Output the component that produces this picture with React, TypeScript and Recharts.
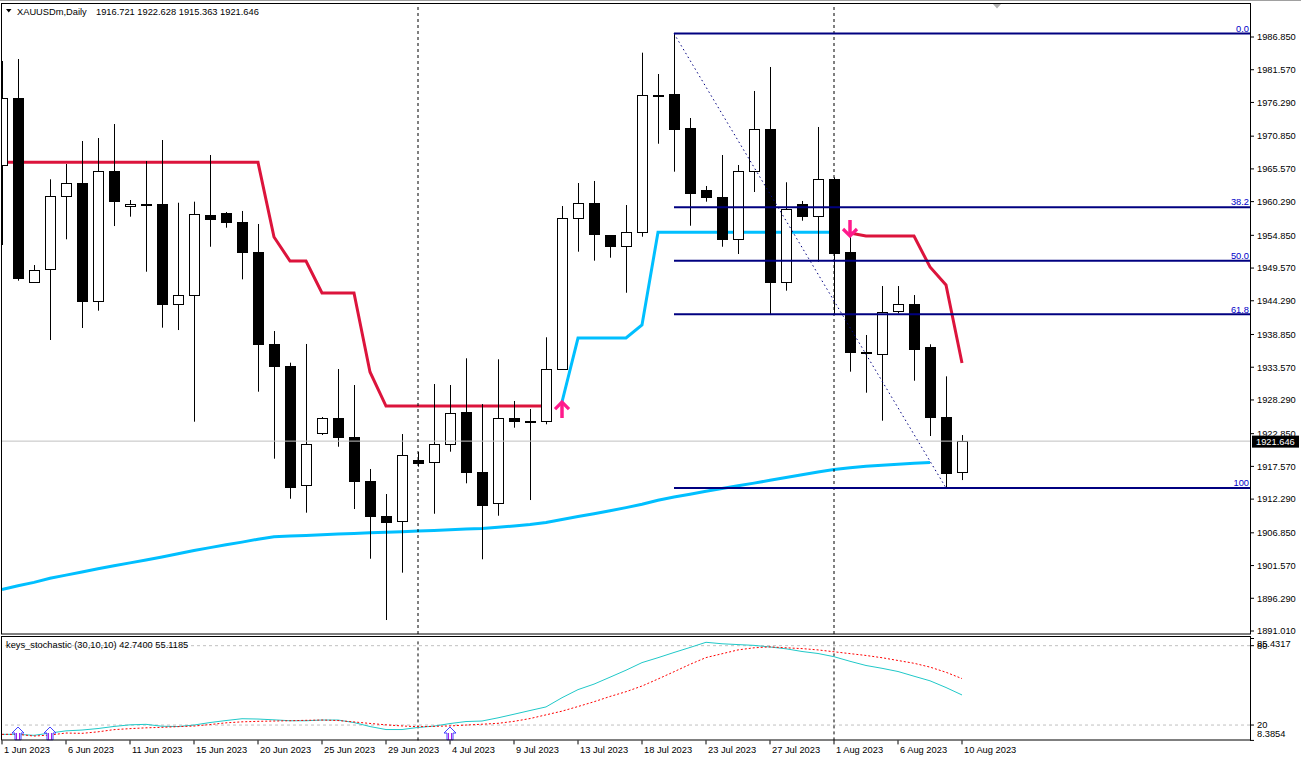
import React from 'react';
import { ComposedChart, Line, Bar, XAxis, YAxis, ReferenceLine, Scatter } from 'recharts';

const FONT = "'Liberation Sans', Arial, sans-serif";

const dates = [
  '1 Jun 2023', '2 Jun 2023', '4 Jun 2023', '5 Jun 2023', '6 Jun 2023', '7 Jun 2023', '8 Jun 2023', '9 Jun 2023',
  '11 Jun 2023', '12 Jun 2023', '13 Jun 2023', '14 Jun 2023', '15 Jun 2023', '16 Jun 2023', '18 Jun 2023', '19 Jun 2023',
  '20 Jun 2023', '21 Jun 2023', '22 Jun 2023', '23 Jun 2023', '25 Jun 2023', '26 Jun 2023', '27 Jun 2023', '28 Jun 2023',
  '29 Jun 2023', '30 Jun 2023', '2 Jul 2023', '3 Jul 2023', '4 Jul 2023', '5 Jul 2023', '6 Jul 2023', '7 Jul 2023',
  '9 Jul 2023', '10 Jul 2023', '11 Jul 2023', '12 Jul 2023', '13 Jul 2023', '14 Jul 2023', '16 Jul 2023', '17 Jul 2023',
  '18 Jul 2023', '19 Jul 2023', '20 Jul 2023', '21 Jul 2023', '23 Jul 2023', '24 Jul 2023', '25 Jul 2023', '26 Jul 2023',
  '27 Jul 2023', '28 Jul 2023', '30 Jul 2023', '31 Jul 2023', '1 Aug 2023', '2 Aug 2023', '3 Aug 2023', '4 Aug 2023',
  '6 Aug 2023', '7 Aug 2023', '8 Aug 2023', '9 Aug 2023', '10 Aug 2023',
];

const opens = [
  1966.20, 1976.96, 1947.27, 1949.37, 1961.15, 1963.24, 1944.30, 1965.18, 1959.53, 1959.90, 1959.86, 1943.82, 1945.17,
  1958.08, 1958.40, 1956.95, 1952.11, 1937.27, 1933.81, 1914.52, 1922.91, 1925.33, 1922.36, 1915.26, 1909.61, 1908.70,
  1918.55, 1918.22, 1921.13, 1926.30, 1916.71, 1911.61, 1925.33, 1924.90, 1924.84, 1933.23, 1957.60, 1960.06, 1954.85,
  1953.18, 1955.34, 1977.50, 1977.65, 1972.17, 1962.12, 1961.08, 1954.31, 1965.18, 1972.01, 1947.37, 1959.86, 1957.92,
  1963.89, 1952.11, 1936.00, 1935.65, 1942.59, 1943.72, 1936.78, 1925.49, 1916.721,
];
const highs = [
  1982.98, 1983.30, 1950.06, 1963.89, 1966.36, 1970.07, 1970.55, 1972.81, 1960.55, 1966.84, 1970.23, 1960.11, 1960.28,
  1967.81, 1958.61, 1958.78, 1956.68, 1939.41, 1934.30, 1937.32, 1925.54, 1933.28, 1930.70, 1917.15, 1913.11, 1922.79,
  1919.89, 1930.86, 1930.70, 1935.01, 1927.63, 1934.85, 1928.12, 1926.83, 1938.40, 1959.58, 1963.29, 1963.62, 1954.90,
  1959.74, 1984.32, 1980.88, 1987.40, 1973.78, 1962.81, 1967.81, 1966.20, 1978.14, 1982.01, 1963.41, 1960.39, 1972.33,
  1964.20, 1954.63, 1938.77, 1946.67, 1946.67, 1945.22, 1937.27, 1932.10, 1922.628,
];
const lows = [
  1953.29, 1947.53, 1947.27, 1937.96, 1954.21, 1939.90, 1942.69, 1956.35, 1957.86, 1948.98, 1939.95, 1939.57, 1924.78,
  1953.01, 1956.08, 1947.75, 1929.62, 1918.81, 1912.35, 1910.10, 1922.63, 1920.74, 1910.69, 1902.67, 1892.78, 1900.42,
  1917.52, 1909.93, 1919.94, 1914.84, 1902.58, 1909.61, 1923.81, 1912.14, 1924.36, 1933.12, 1952.21, 1950.76, 1951.24,
  1945.59, 1954.63, 1969.63, 1965.12, 1956.40, 1960.28, 1953.01, 1951.84, 1961.84, 1941.99, 1945.92, 1957.21, 1950.59,
  1941.99, 1932.85, 1929.46, 1924.94, 1942.27, 1931.39, 1922.47, 1914.10, 1915.363,
];
const closes = [
  1976.96, 1947.92, 1949.26, 1961.15, 1963.24, 1944.30, 1965.18, 1960.44, 1959.86, 1959.80, 1943.82, 1945.17, 1958.24,
  1957.44, 1956.95, 1952.11, 1937.27, 1933.81, 1914.29, 1921.13, 1925.33, 1922.36, 1915.26, 1909.61, 1908.64, 1919.36,
  1918.16, 1921.13, 1926.13, 1916.71, 1911.39, 1925.33, 1924.84, 1924.80, 1933.23, 1957.60, 1960.02, 1955.11, 1953.18,
  1955.34, 1977.44, 1977.40, 1972.05, 1961.73, 1961.08, 1954.31, 1965.18, 1971.96, 1947.37, 1959.05, 1958.02, 1963.89,
  1952.05, 1935.98, 1935.90, 1942.43, 1943.72, 1936.56, 1925.49, 1916.55, 1921.646,
];

// long moving average (ends at bar 58)
const movingAverage = [
  1897.70, 1898.30, 1898.85, 1899.51, 1900.03, 1900.54, 1901.06, 1901.53, 1902.00, 1902.46, 1902.96, 1903.48, 1904.00,
  1904.46, 1904.92, 1905.35, 1905.82, 1906.21, 1906.32, 1906.43, 1906.55, 1906.66, 1906.76, 1906.85, 1906.95, 1907.03,
  1907.13, 1907.24, 1907.34, 1907.45, 1907.55, 1907.74, 1907.95, 1908.18, 1908.53, 1909.00, 1909.47, 1909.93, 1910.42,
  1910.92, 1911.45, 1912.10, 1912.64, 1913.08, 1913.55, 1914.00, 1914.45, 1914.87, 1915.32, 1915.77, 1916.23, 1916.68,
  1917.07, 1917.36, 1917.58, 1917.76, 1917.92, 1918.07, 1918.20,
];

// trend stop line: bearish part (bars 0-34), bullish part (bars 35-52), bearish part (bars 53-60)
const trendDown1Start = 0;
const trendDown1 = [
  1966.63, 1966.63, 1966.63, 1966.63, 1966.63, 1966.63, 1966.63, 1966.63, 1966.63, 1966.63, 1966.63, 1966.63, 1966.63,
  1966.63, 1966.63, 1966.63, 1966.63, 1954.58, 1950.71, 1950.71, 1945.54, 1945.54, 1945.54, 1932.80, 1927.31, 1927.31,
  1927.31, 1927.31, 1927.31, 1927.31, 1927.31, 1927.31, 1927.31, 1927.31, 1927.31,
];
const trendUpStart = 35;
const trendUp = [
  1927.96, 1938.28, 1938.28, 1938.28, 1938.28, 1940.38, 1955.34, 1955.34, 1955.34, 1955.34, 1955.34, 1955.34, 1955.34,
  1955.34, 1955.34, 1955.34, 1955.34, 1955.34,
];
const trendDown2Start = 53;
const trendDown2 = [1955.23, 1954.74, 1954.74, 1954.74, 1954.74, 1949.74, 1946.84, 1934.25];

const signals = [
  { i: 35, v: 1928.28, dir: 'up' },
  { i: 53, v: 1954.42, dir: 'down' },
];

const fibHighBar = 42;
const fibLowBar = 59;
const fibHigh = 1987.40;
const fibLow = 1914.10;
const fibLevels = [0, 38.2, 50, 61.8, 100];
const fibLabels = ['0.0', '38.2', '50.0', '61.8', '100'];

const lastPrice = 1921.646;
const separators = [26, 52];

const priceTickLabels = [
  '1986.850', '1981.570', '1976.290', '1970.850', '1965.570', '1960.290', '1954.850', '1949.570', '1944.290', '1938.850',
  '1933.570', '1928.290', '1922.850', '1917.570', '1912.290', '1906.850', '1901.570', '1896.290', '1891.010',
];
const xTickLabels = [
  '1 Jun 2023', '6 Jun 2023', '11 Jun 2023', '15 Jun 2023', '20 Jun 2023', '25 Jun 2023', '29 Jun 2023', '4 Jul 2023',
  '9 Jul 2023', '13 Jul 2023', '18 Jul 2023', '23 Jul 2023', '27 Jul 2023', '1 Aug 2023', '6 Aug 2023', '10 Aug 2023',
];

const stochMain = [
  12.96, 12.96, 12.21, 13.95, 15.61, 16.22, 17.35, 18.94, 20.15, 20.53, 19.09, 18.87, 20.00, 21.89, 23.40, 24.77, 24.54,
  23.93, 23.25, 23.25, 23.78, 23.78, 21.89, 18.87, 16.60, 16.60, 18.18, 19.17, 21.13, 22.65, 23.03, 25.45, 28.17, 30.97,
  33.69, 40.66, 46.78, 50.94, 56.17, 61.46, 67.21, 70.92, 74.85, 78.64, 82.57, 81.44, 80.83, 80.23, 79.01, 77.65, 75.61,
  74.10, 71.68, 68.20, 65.02, 62.90, 60.48, 56.92, 53.44, 48.37, 42.74,
];
const stochSignal = [
  12.96, 12.96, 11.68, 12.43, 13.95, 13.72, 14.86, 16.52, 17.28, 17.88, 18.26, 18.79, 19.24, 20.38, 21.66, 22.42, 22.80,
  23.03, 23.25, 23.56, 23.78, 23.40, 22.35, 21.21, 20.15, 19.32, 18.71, 19.02, 19.32, 20.00, 20.61, 21.29, 22.80, 24.90,
  27.70, 30.50, 34.00, 37.60, 41.60, 45.20, 49.50, 54.80, 60.30, 65.90, 71.00, 73.90, 76.80, 78.40, 79.10, 78.40, 77.80,
  76.80, 75.40, 74.00, 72.60, 70.90, 68.80, 66.70, 63.80, 59.90, 55.12,
];
const stochArrows = [
  { i: 1, v: 18.5 },
  { i: 3, v: 18.5 },
  { i: 28, v: 18.5 },
];
const stochTickLabels = ['85.4317', '80', '20', '8.3854'];
const stochLevels = [80, 20];

const X_DOMAIN: [number, number] = [-0.0625, 78];
const PRICE_DOMAIN: [number, number] = [1890.526, 1992.336];
const STOCH_DOMAIN: [number, number] = [8.3854, 85.4317];

const rows = dates.map((date, i) => ({
  i,
  date,
  open: opens[i],
  high: highs[i],
  low: lows[i],
  close: closes[i],
  ma: i < movingAverage.length ? movingAverage[i] : null,
  dn1: i >= trendDown1Start && i < trendDown1Start + trendDown1.length ? trendDown1[i - trendDown1Start] : null,
  up: i >= trendUpStart && i < trendUpStart + trendUp.length ? trendUp[i - trendUpStart] : null,
  dn2: i >= trendDown2Start && i < trendDown2Start + trendDown2.length ? trendDown2[i - trendDown2Start] : null,
  k: stochMain[i],
  d: stochSignal[i],
}));

const fibRows = fibLevels.map((lvl, idx) => ({
  value: fibHigh - (fibHigh - fibLow) * (lvl / 100),
  label: fibLabels[idx],
}));

const Wick = (p: any) => {
  const { x, y, width, height } = p;
  if (x == null || y == null) return null;
  const cx = Math.round(x + width / 2) + 0.5;
  const top = Math.min(y, y + height);
  const h = Math.abs(height);
  return <line x1={cx} x2={cx} y1={top} y2={top + h} stroke="#000" strokeWidth={1} />;
};

const Body = (p: any) => {
  const { x, y, width, height, payload } = p;
  if (x == null || y == null) return null;
  const cx = Math.round(x + width / 2);
  const top = Math.min(y, y + height);
  const h = Math.abs(height);
  const bull = payload.close >= payload.open;
  const y0 = Math.round(top) + 0.5;
  let y1 = Math.round(top + h) + 0.5;
  if (y1 - y0 < 1) y1 = y0 + 1;
  return (
    <rect x={cx - 4.5} y={y0} width={10} height={y1 - y0} fill={bull ? '#fff' : '#000'} stroke="#000" strokeWidth={1} />
  );
};

const SignalArrow = (p: any) => {
  const { cx, cy, payload } = p;
  if (cx == null || cy == null) return null;
  const col = '#FF1A8C';
  const s = payload.dir === 'up' ? 1 : -1;
  return (
    <g stroke={col} fill="none">
      <line x1={cx} y1={cy + s * 2} x2={cx} y2={cy + s * 18} strokeWidth={3.5} />
      <polyline
        points={`${cx - 7},${cy + s * 9} ${cx},${cy + s * 2} ${cx + 7},${cy + s * 9}`}
        strokeWidth={3.2}
        strokeLinejoin="miter"
      />
    </g>
  );
};

const StochArrow = (p: any) => {
  const { cx, cy } = p;
  if (cx == null || cy == null) return null;
  const pts = [
    [cx, cy],
    [cx + 6, cy + 6],
    [cx + 3, cy + 6],
    [cx + 3, cy + 13],
    [cx - 3, cy + 13],
    [cx - 3, cy + 6],
    [cx - 6, cy + 6],
  ]
    .map((q) => q.join(','))
    .join(' ');
  return (
    <g>
      <polygon points={pts} fill="#fff" stroke="#4040ff" strokeWidth={1} />
      <line x1={cx - 1.5} x2={cx - 1.5} y1={cy + 6} y2={cy + 13} stroke="#a020f0" strokeWidth={1} />
      <line x1={cx + 1.5} x2={cx + 1.5} y1={cy + 6} y2={cy + 13} stroke="#a020f0" strokeWidth={1} />
    </g>
  );
};

const makeFibLabel = (text: string) => (props: any) => {
  const vb = props.viewBox || {};
  const x = (vb.x || 0) + (vb.width || 0) - 1;
  const y = (vb.y || 0) - 1.8;
  return (
    <text x={x} y={y} textAnchor="end" fontSize={9.3} fontFamily={FONT} fill="#0000C8">
      {text}
    </text>
  );
};

const PriceBox = (props: any) => {
  const vb = props.viewBox || {};
  const x = (vb.x || 0) + (vb.width || 0) + 2;
  const y = vb.y || 0;
  return (
    <g>
      <rect x={x} y={y - 5.5} width={47} height={12} fill="#000" />
      <text x={x + 4} y={y + 0.5} dy="0.355em" fontSize={9.3} fontFamily={FONT} fill="#fff">
        {lastPrice.toFixed(3)}
      </text>
    </g>
  );
};

const DateTick = (p: any) => {
  const v = p.payload ? p.payload.value : 0;
  const label = dates[v] || '';
  return (
    <text x={p.x + 2} y={p.y} dy="0.71em" fontSize={9.3} fontFamily={FONT} fill="#000" textAnchor="start">
      {label}
    </text>
  );
};

const StochTick = (p: any) => {
  const v = p.payload ? p.payload.value : 0;
  const idx = stochTickLabels.findIndex((s) => Math.abs(Number(s) - v) < 1e-6);
  let y = p.y;
  if (v === STOCH_DOMAIN[1]) y += 5.5;
  if (v === STOCH_DOMAIN[0]) y -= 6.4;
  return (
    <text x={p.x} y={y} dy="0.355em" fontSize={9.3} fontFamily={FONT} fill="#000" textAnchor="start">
      {idx >= 0 ? stochTickLabels[idx] : ''}
    </text>
  );
};

const priceTicks = priceTickLabels.map(Number);
const xTicks = xTickLabels.map((l) => dates.indexOf(l));
const stochTicks = stochTickLabels.map(Number);

export default function App() {
  return (
    <div
      style={{
        position: 'fixed',
        left: 0,
        top: 0,
        width: 1301,
        height: 761,
        background: '#fff',
        overflow: 'hidden',
      }}
    >
      <div style={{ position: 'absolute', left: 0, top: 0 }}>
        <ComposedChart width={1301} height={636} data={rows} margin={{ top: 3, right: 0, bottom: 2, left: 1 }}>
          <XAxis xAxisId={0} dataKey="i" type="number" domain={X_DOMAIN} allowDataOverflow hide />
          <XAxis xAxisId="w" dataKey="i" type="number" domain={X_DOMAIN} allowDataOverflow hide />
          <XAxis xAxisId="b" dataKey="i" type="number" domain={X_DOMAIN} allowDataOverflow hide />
          <YAxis
            orientation="right"
            width={51}
            type="number"
            domain={PRICE_DOMAIN}
            allowDataOverflow
            ticks={priceTicks}
            interval={0}
            tickFormatter={(v: number) => v.toFixed(3)}
            tick={{ fontSize: 9.3, fontFamily: FONT, fill: '#000' }}
            tickSize={4}
            tickMargin={3}
            axisLine={false}
            tickLine={{ stroke: '#000' }}
          />
          <ReferenceLine y={lastPrice} stroke="#C0C0C0" strokeWidth={1} label={PriceBox} />
          {separators.map((s) => (
            <ReferenceLine key={'sep' + s} x={s} stroke="#000" strokeWidth={1} strokeDasharray="3 3" />
          ))}
          <Line
            dataKey="ma"
            stroke="#00BFFF"
            strokeWidth={3}
            dot={false}
            isAnimationActive={false}
            connectNulls={false}
            zIndex={100}
          />
          <Line dataKey="dn1" stroke="#DC143C" strokeWidth={3} dot={false} isAnimationActive={false} zIndex={100} />
          <Line dataKey="up" stroke="#00BFFF" strokeWidth={3} dot={false} isAnimationActive={false} zIndex={100} />
          <Line dataKey="dn2" stroke="#DC143C" strokeWidth={3} dot={false} isAnimationActive={false} zIndex={100} />
          <Bar
            xAxisId="w"
            dataKey={(d: any) => [d.low, d.high]}
            barSize={10}
            shape={Wick}
            isAnimationActive={false}
            zIndex={300}
          />
          <Bar
            xAxisId="b"
            dataKey={(d: any) => [Math.min(d.open, d.close), Math.max(d.open, d.close)]}
            barSize={10}
            shape={Body}
            isAnimationActive={false}
            zIndex={310}
          />
          {fibRows.map((f) => (
            <ReferenceLine
              key={'fib' + f.label}
              segment={[
                { x: fibHighBar, y: f.value },
                { x: X_DOMAIN[1], y: f.value },
              ]}
              stroke="#000080"
              strokeWidth={2}
              label={makeFibLabel(f.label)}
            />
          ))}
          <ReferenceLine
            segment={[
              { x: fibHighBar, y: fibHigh },
              { x: fibLowBar, y: fibLow },
            ]}
            stroke="#000080"
            strokeWidth={1}
            strokeDasharray="1.5 3"
          />
          <Scatter data={signals} dataKey="v" shape={SignalArrow} isAnimationActive={false} />
        </ComposedChart>
      </div>

      <div style={{ position: 'absolute', left: 0, top: 636 }}>
        <ComposedChart width={1301} height={125} data={rows} margin={{ top: 2.5, right: 0, bottom: 0.6, left: 1 }}>
          <XAxis
            dataKey="i"
            type="number"
            domain={X_DOMAIN}
            allowDataOverflow
            ticks={xTicks}
            interval={0}
            tick={DateTick}
            tickSize={4}
            tickMargin={2}
            axisLine={false}
            tickLine={{ stroke: '#000' }}
            height={20}
          />
          <YAxis
            orientation="right"
            width={51}
            type="number"
            domain={STOCH_DOMAIN}
            allowDataOverflow
            ticks={stochTicks}
            interval={0}
            tick={StochTick}
            tickSize={4}
            tickMargin={3}
            axisLine={false}
            tickLine={{ stroke: '#000' }}
          />
          {stochLevels.map((l) => (
            <ReferenceLine key={'lvl' + l} y={l} stroke="#C0C0C0" strokeDasharray="3 3" />
          ))}
          {separators.map((s) => (
            <ReferenceLine key={'ssep' + s} x={s} stroke="#000" strokeWidth={1} strokeDasharray="3 3" />
          ))}
          <Line dataKey="k" stroke="#20C8C8" strokeWidth={1} dot={false} isAnimationActive={false} />
          <Line
            dataKey="d"
            stroke="#FF0000"
            strokeWidth={1}
            strokeDasharray="2 2"
            dot={false}
            isAnimationActive={false}
          />
          <Scatter data={stochArrows} dataKey="v" shape={StochArrow} isAnimationActive={false} />
        </ComposedChart>
      </div>

      <svg
        width={1301}
        height={761}
        style={{ position: 'absolute', left: 0, top: 0, pointerEvents: 'none' }}
      >
        <line x1={0} x2={1301} y1={0.5} y2={0.5} stroke="#A0A0A0" />
        <rect x={1.5} y={3.5} width={1249} height={630.5} fill="none" stroke="#000" />
        <rect x={1.5} y={636.5} width={1249} height={103.5} fill="none" stroke="#000" />
        <polygon points="993,4 1001,4 997,8.5" fill="#B0B0B0" />
        <polygon points="6,9 11.5,9 8.75,12.5" fill="#000" />
        <text x={17} y={15.3} fontSize={9.3} fontFamily={FONT} fill="#000">
          XAUUSDm,Daily
        </text>
        <text x={96} y={15.3} fontSize={9.3} fontFamily={FONT} fill="#000">
          1916.721 1922.628 1915.363 1921.646
        </text>
        <text x={6} y={648.3} fontSize={9.3} fontFamily={FONT} fill="#000">
          keys_stochastic (30,10,10) 42.7400 55.1185
        </text>
      </svg>
    </div>
  );
}
